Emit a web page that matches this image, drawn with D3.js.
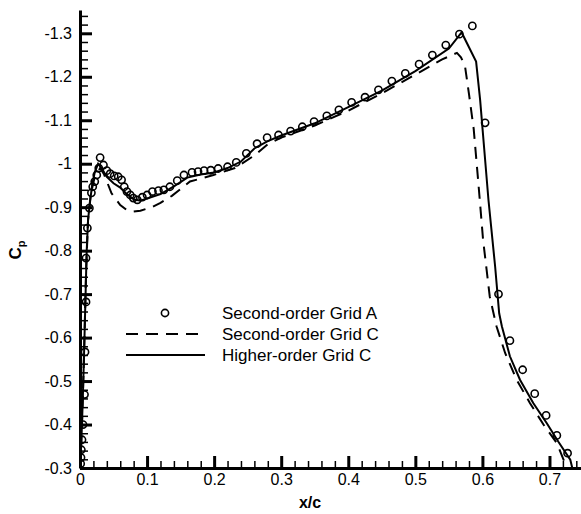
<!DOCTYPE html>
<html>
<head>
<meta charset="utf-8">
<title>Cp distribution</title>
<script src="https://cdn.jsdelivr.net/npm/d3@7"></script>
<style>
  body { margin: 0; background: #fff; }
  text { font-family: 'Liberation Sans', Arial, Helvetica, sans-serif; fill: #000; }
  .axis path, .axis line { stroke: #000; }
  .axis text { font-size: 16px; }
</style>
</head>
<body>
<div id="chart"></div>
<script>
// series names, as in the legend
var seriesNames = ["Second-order Grid A", "Second-order Grid C", "Higher-order Grid C"];

// Second-order Grid A (symbols)
var gridAx = [0.001,0.0015,0.002,0.003,0.0045,0.0067,0.0075,0.009,0.009,0.011,0.014,0.017,0.019,0.022,0.025,0.028,0.030,
  0.035,0.040,0.045,0.051,0.057,0.062,0.066,0.070,0.075,0.0795,0.0855,0.093,0.100,0.108,0.117,0.125,0.134,0.145,0.155,
  0.167,0.176,0.185,0.195,0.206,0.220,0.233,0.248,0.264,0.279,0.296,0.314,0.3315,0.349,0.368,0.386,0.405,0.425,0.445,
  0.465,0.485,0.5056,0.5254,0.5454,0.5657,0.585,0.604,0.624,0.641,0.660,0.678,0.695,0.711,0.727];
var gridAcp = [-0.31,-0.324,-0.342,-0.365,-0.40,-0.469,-0.567,-0.682,-0.783,-0.852,-0.898,-0.933,-0.947,-0.959,-0.974,-0.99,-1.014,
  -0.997,-0.984,-0.977,-0.972,-0.970,-0.963,-0.947,-0.936,-0.928,-0.921,-0.917,-0.923,-0.928,-0.936,-0.938,-0.940,-0.947,-0.961,-0.974,
  -0.980,-0.982,-0.984,-0.985,-0.989,-0.993,-1.003,-1.024,-1.046,-1.060,-1.066,-1.075,-1.085,-1.097,-1.110,-1.124,-1.141,-1.153,-1.170,
  -1.190,-1.208,-1.229,-1.250,-1.273,-1.298,-1.317,-1.094,-0.700,-0.593,-0.526,-0.471,-0.421,-0.375,-0.334];

// Second-order Grid C (dashed)
var gridCx = [0,0.003,0.006,0.009,0.012,0.016,0.022,0.030,0.036,0.047,0.060,0.070,0.080,0.090,0.107,0.120,0.137,0.164,0.199,
  0.231,0.261,0.280,0.300,0.350,0.400,0.450,0.500,0.540,0.562,0.568,0.574,0.580,0.587,0.594,0.601,0.611,0.621,0.634,0.651,
  0.671,0.691,0.711,0.726];
var gridCcp = [-0.30,-0.40,-0.56,-0.75,-0.87,-0.93,-0.97,-0.99,-0.975,-0.932,-0.905,-0.893,-0.890,-0.892,-0.900,-0.910,-0.926,-0.959,-0.974,
  -0.990,-1.020,-1.045,-1.060,-1.088,-1.122,-1.162,-1.205,-1.240,-1.255,-1.245,-1.225,-1.160,-1.080,-0.955,-0.825,-0.694,-0.626,-0.564,-0.503,
  -0.449,-0.400,-0.357,-0.300];

// Higher-order Grid C (solid)
var higherx = [0,0.002,0.004,0.006,0.008,0.010,0.012,0.014,0.018,0.022,0.027,0.032,0.040,0.050,0.060,0.070,0.080,0.090,0.100,
  0.120,0.140,0.160,0.180,0.200,0.220,0.240,0.260,0.280,0.300,0.350,0.400,0.450,0.500,0.550,0.569,0.5906,0.5966,0.609,0.619,
  0.625,0.629,0.641,0.656,0.676,0.696,0.713,0.731,0.734];
var highercp = [-0.30,-0.36,-0.45,-0.56,-0.68,-0.80,-0.87,-0.90,-0.95,-0.98,-1.00,-0.99,-0.97,-0.955,-0.945,-0.93,-0.918,-0.915,-0.92,
  -0.93,-0.948,-0.968,-0.975,-0.98,-0.99,-1.005,-1.035,-1.052,-1.065,-1.093,-1.13,-1.168,-1.213,-1.265,-1.302,-1.235,-1.147,-0.917,-0.763,
  -0.656,-0.626,-0.557,-0.503,-0.449,-0.403,-0.361,-0.319,-0.30];

// axis ticks
var xMajor = [0, 0.1, 0.2, 0.3, 0.4, 0.5, 0.6, 0.7];
var yMajor = [-0.3, -0.4, -0.5, -0.6, -0.7, -0.8, -0.9, -1, -1.1, -1.2, -1.3];
var xMinor = d3.range(0, 0.745, 0.02);
var yMinor = d3.range(-0.3, -1.35, -0.02);

var W = 581, H = 514;
var svg = d3.select("#chart").append("svg").attr("width", W).attr("height", H);

var x = d3.scaleLinear().domain([0, 0.747]).range([80, 581]);
var y = d3.scaleLinear().domain([-0.3, -1.3536]).range([468, 10]);

var fmt = function(d) { return String(+d.toFixed(1)); };

svg.append("clipPath").attr("id", "clip")
  .append("rect").attr("x", 80).attr("y", 0).attr("width", W - 80).attr("height", 468);

var line = d3.line().x(function(d) { return x(d[0]); }).y(function(d) { return y(d[1]); });

var plot = svg.append("g").attr("clip-path", "url(#clip)");

plot.append("path")
  .datum(d3.zip(gridCx, gridCcp))
  .attr("d", line)
  .attr("fill", "none").attr("stroke", "#000").attr("stroke-width", 2)
  .attr("stroke-dasharray", "12,8");

plot.append("path")
  .datum(d3.zip(higherx, highercp))
  .attr("d", line)
  .attr("fill", "none").attr("stroke", "#000").attr("stroke-width", 2);

plot.selectAll(".pt")
  .data(d3.zip(gridAx, gridAcp))
  .enter().append("circle")
  .attr("class", "pt")
  .attr("cx", function(d) { return x(d[0]); })
  .attr("cy", function(d) { return y(d[1]); })
  .attr("r", 3.6)
  .attr("fill", "none").attr("stroke", "#000").attr("stroke-width", 1.6);

// minor ticks
svg.append("g").attr("class", "axis")
  .attr("transform", "translate(0,468)")
  .call(d3.axisBottom(x).tickValues(xMinor).tickSize(-7).tickSizeOuter(0).tickFormat(""))
  .call(function(g) { g.select(".domain").remove(); g.selectAll("line").attr("stroke-width", 1.5); });
svg.append("g").attr("class", "axis")
  .attr("transform", "translate(80,0)")
  .call(d3.axisLeft(y).tickValues(yMinor).tickSize(-8).tickSizeOuter(0).tickFormat(""))
  .call(function(g) { g.select(".domain").remove(); g.selectAll("line").attr("stroke-width", 1.5); });

// major ticks + labels
svg.append("g").attr("class", "axis")
  .attr("transform", "translate(0,468)")
  .call(d3.axisBottom(x).tickValues(xMajor).tickSize(-12).tickSizeOuter(0).tickPadding(6).tickFormat(fmt))
  .call(function(g) {
    g.select(".domain").attr("stroke-width", 3);
    g.selectAll(".tick line").attr("stroke-width", 3);
    g.selectAll(".tick text").attr("y", 6);
  });
svg.append("g").attr("class", "axis")
  .attr("transform", "translate(80,0)")
  .call(d3.axisLeft(y).tickValues(yMajor).tickSize(-12).tickSizeOuter(0).tickPadding(8).tickFormat(fmt))
  .call(function(g) {
    g.select(".domain").attr("stroke-width", 3);
    g.selectAll(".tick line").attr("stroke-width", 3);
  });

// axis titles
svg.append("text").attr("x", 310).attr("y", 508)
  .attr("text-anchor", "middle").attr("font-size", 16).attr("font-weight", "bold").text("x/c");
var yt = svg.append("text").attr("transform", "translate(21,250) rotate(-90)")
  .attr("text-anchor", "middle").attr("font-size", 17).attr("font-weight", "bold");
yt.append("tspan").text("C");
yt.append("tspan").attr("font-size", 11).attr("dy", 4).text("p");

// legend
var lg = svg.append("g");
var rows = [313, 334, 355];
lg.append("circle").attr("cx", 165).attr("cy", rows[0]).attr("r", 3.6)
  .attr("fill", "none").attr("stroke", "#000").attr("stroke-width", 1.6);
lg.append("line").attr("x1", 126).attr("x2", 205).attr("y1", rows[1]).attr("y2", rows[1])
  .attr("stroke", "#000").attr("stroke-width", 2).attr("stroke-dasharray", "12,8");
lg.append("line").attr("x1", 126).attr("x2", 205).attr("y1", rows[2]).attr("y2", rows[2])
  .attr("stroke", "#000").attr("stroke-width", 2);
lg.selectAll(".lt").data(seriesNames).enter().append("text")
  .attr("class", "lt")
  .attr("x", 222).attr("y", function(d, i) { return rows[i] + 6; })
  .attr("font-size", 17).text(function(d) { return d; });
</script>
</body>
</html>
